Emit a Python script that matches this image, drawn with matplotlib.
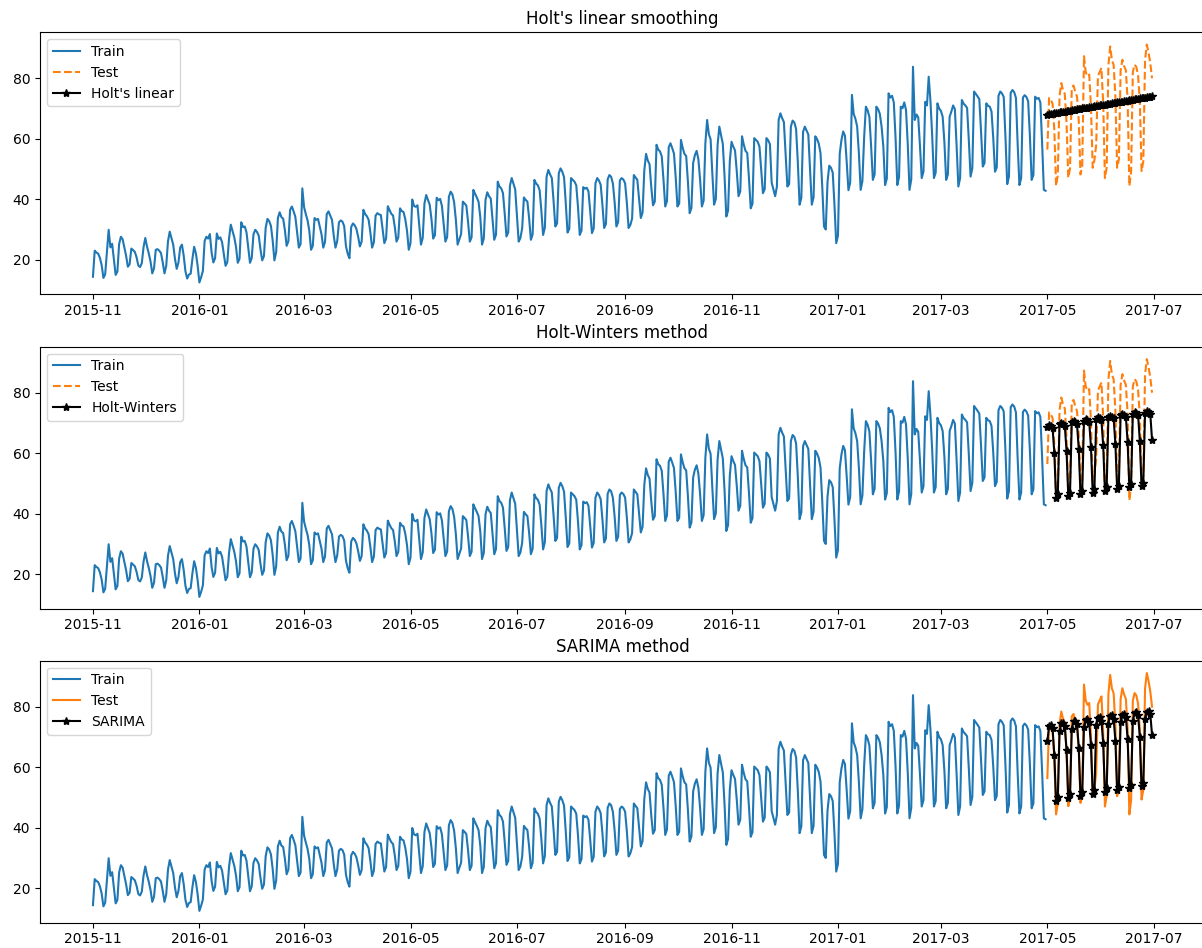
import matplotlib
matplotlib.use("Agg")
import matplotlib.pyplot as plt
import matplotlib.dates as mdates
import pandas as pd
import numpy as np

# ---------------- data ----------------
train_start = "2015-11-01"

# daily training values, one row per week (Sun..Sat)
train_values = [
    14.4, 23.0, 22.4, 22.0, 20.6, 18.2, 14.0,
    15.2, 22.5, 29.9, 24.1, 25.3, 20.2, 15.0,
    16.1, 25.2, 27.6, 26.8, 24.0, 21.3, 17.7,
    18.5, 23.7, 23.2, 22.6, 20.8, 18.1, 17.6,
    18.9, 24.2, 27.2, 24.3, 22.1, 19.4, 15.5,
    17.2, 23.3, 23.5, 23.0, 22.2, 19.1, 15.5,
    18.0, 26.1, 29.3, 27.2, 25.0, 20.3, 17.0,
    19.1, 24.0, 25.0, 21.4, 16.2, 13.8, 15.1,
    15.4, 20.3, 24.3, 22.1, 18.0, 12.5, 14.2,
    16.3, 26.2, 27.6, 27.0, 28.5, 22.4, 19.1,
    20.5, 28.7, 26.9, 27.4, 25.8, 22.0, 18.0,
    19.2, 27.1, 31.6, 29.5, 27.4, 24.2, 19.0,
    20.3, 32.4, 30.8, 31.0, 29.1, 24.0, 19.0,
    20.6, 28.4, 29.9, 29.2, 28.0, 23.5, 19.8,
    21.2, 30.6, 33.5, 32.8, 31.2, 26.4, 19.8,
    22.5, 33.8, 35.7, 34.1, 33.6, 29.8, 24.6,
    26.1, 36.5, 37.6, 36.0, 34.2, 29.1, 24.0,
    25.2, 43.6, 37.4, 35.1, 33.0, 29.6, 23.3,
    24.6, 33.8, 33.2, 33.5, 31.0, 28.4, 24.0,
    25.9, 35.1, 36.0, 34.6, 33.2, 28.0, 24.0,
    26.2, 32.4, 33.0, 32.6, 31.1, 24.5, 22.0,
    20.5, 30.8, 32.0, 31.4, 30.2, 27.6, 24.4,
    26.0, 36.5, 35.1, 34.4, 33.2, 29.0, 24.0,
    25.8, 34.6, 35.4, 35.0, 34.8, 30.1, 25.5,
    27.0, 37.7, 36.4, 35.2, 34.6, 30.8, 26.0,
    27.4, 37.0, 36.1, 35.8, 33.4, 29.6, 23.3,
    25.5, 39.9, 37.8, 37.5, 38.0, 31.4, 25.0,
    27.2, 38.6, 41.4, 39.8, 38.2, 33.5, 27.0,
    28.1, 40.5, 39.7, 40.1, 37.8, 32.0, 26.0,
    27.5, 40.8, 42.5, 41.6, 39.0, 33.2, 25.0,
    26.8, 28.5, 39.2, 38.6, 37.9, 32.4, 26.0,
    27.4, 43.1, 41.8, 40.6, 39.2, 34.1, 25.0,
    27.0, 39.8, 42.3, 41.0, 40.2, 33.5, 26.6,
    28.3, 45.8, 44.2, 43.6, 42.0, 35.2, 27.7,
    29.0, 44.5, 47.0, 45.1, 43.3, 34.8, 26.0,
    27.2, 30.4, 40.6, 39.8, 39.2, 33.6, 26.6,
    28.4, 46.4, 45.2, 44.6, 43.0, 36.2, 28.2,
    30.6, 47.5, 49.7, 48.2, 47.0, 39.4, 31.0,
    32.0, 48.6, 50.2, 49.1, 47.3, 38.6, 29.0,
    30.2, 47.0, 46.4, 45.8, 44.6, 37.4, 28.2,
    29.6, 44.0, 43.5, 43.8, 42.6, 36.0, 28.8,
    30.4, 45.3, 47.0, 46.2, 44.8, 38.1, 30.5,
    31.8, 46.6, 48.0, 47.4, 45.2, 39.0, 31.0,
    32.4, 46.2, 47.0, 46.5, 45.3, 38.8, 30.5,
    31.5, 33.6, 48.0, 47.2, 46.4, 40.2, 33.8,
    35.6, 49.5, 55.0, 52.8, 51.6, 44.0, 38.0,
    39.2, 58.0, 56.4, 55.8, 54.2, 46.5, 37.6,
    39.4, 57.2, 58.5, 56.9, 55.1, 47.2, 37.6,
    38.6, 59.6, 57.0, 55.0, 54.3, 45.8, 35.4,
    37.1, 52.0, 54.6, 56.0, 53.2, 46.3, 37.6,
    39.5, 58.5, 66.2, 61.5, 59.8, 48.4, 38.2,
    40.1, 57.9, 64.0, 61.2, 58.3, 47.6, 34.3,
    36.2, 52.5, 59.0, 57.4, 56.1, 49.2, 41.0,
    42.6, 60.8, 58.1, 56.0, 55.3, 46.8, 37.0,
    38.5, 60.2, 59.6, 59.0, 57.4, 49.5, 42.0,
    43.3, 60.2, 59.5, 58.2, 45.5, 43.2, 41.0,
    44.2, 66.2, 68.4, 66.8, 65.5, 55.0, 44.2,
    45.0, 64.0, 66.0, 65.4, 63.2, 52.1, 38.2,
    40.4, 62.3, 64.0, 62.7, 61.4, 50.0, 38.2,
    40.6, 60.8, 59.9, 58.4, 55.2, 44.0, 31.0,
    30.0, 45.6, 51.1, 50.4, 48.8, 38.0, 25.5,
    28.0, 55.0, 59.6, 62.4, 61.0, 52.3, 43.0,
    45.5, 74.5, 68.2, 66.6, 64.0, 55.1, 43.1,
    46.0, 60.5, 70.6, 69.4, 67.2, 57.5, 46.4,
    48.2, 70.6, 69.8, 68.2, 64.0, 57.4, 44.7,
    46.8, 75.0, 73.6, 74.2, 72.0, 60.3, 44.7,
    47.3, 70.6, 70.1, 72.0, 69.5, 58.2, 43.1,
    46.5, 83.8, 66.2, 68.0, 67.1, 57.6, 47.0,
    49.1, 72.2, 71.0, 80.5, 72.5, 61.0, 47.0,
    48.8, 71.7, 70.0, 69.2, 67.3, 58.8, 46.4,
    48.2, 67.3, 69.0, 71.0, 69.8, 57.6, 44.2,
    47.0, 72.8, 71.6, 71.0, 70.2, 59.5, 47.5,
    50.2, 75.6, 74.8, 74.0, 73.1, 62.4, 50.8,
    52.0, 71.7, 70.9, 70.6, 69.0, 60.2, 49.1,
    50.5, 74.2, 75.6, 75.0, 73.8, 60.5, 45.0,
    47.5, 75.2, 76.1, 75.4, 73.5, 58.0, 44.7,
    47.0, 73.6, 74.4, 73.8, 72.4, 61.0, 46.4,
    48.0, 73.9, 73.2, 73.5, 72.0, 58.6, 43.1,
    42.8,
]

# test period (Mon 2017-05-01 .. Fri 2017-06-30), rows Mon..Sun
test_values = [
    56.4, 73.5, 72.8, 71.6, 63.0, 44.4, 48.0,
    74.2, 78.4, 76.0, 74.8, 65.3, 47.1, 50.2,
    76.8, 77.6, 75.5, 73.9, 66.0, 48.2, 51.0,
    87.3, 82.0, 80.6, 81.2, 70.5, 50.4, 53.0,
    58.0, 80.8, 82.0, 83.4, 72.0, 47.0, 50.5,
    84.2, 90.5, 86.0, 84.4, 74.0, 50.4, 53.2,
    82.5, 86.1, 84.0, 82.6, 73.0, 44.4, 49.0,
    82.0, 84.5, 83.7, 81.0, 72.4, 49.3, 52.5,
    86.0, 91.1, 88.5, 85.0, 80.0,
]

holt_values = [
    68.0, 68.1, 68.2, 68.3, 68.4, 68.5, 68.6, 68.7, 68.8, 68.9,
    69.0, 69.1, 69.2, 69.3, 69.4, 69.5, 69.6, 69.7, 69.8, 69.9,
    70.0, 70.1, 70.2, 70.3, 70.4, 70.5, 70.6, 70.7, 70.8, 70.9,
    71.0, 71.1, 71.2, 71.3, 71.4, 71.5, 71.6, 71.7, 71.8, 71.9,
    72.0, 72.1, 72.2, 72.3, 72.4, 72.5, 72.6, 72.7, 72.8, 72.9,
    73.0, 73.1, 73.2, 73.3, 73.4, 73.5, 73.6, 73.7, 73.8, 73.9,
    74.0,
]

hw_values = [
    68.8, 69.3, 69.0, 68.4, 60.1, 45.3, 46.4,
    69.6, 70.0, 69.7, 69.1, 60.8, 45.9, 47.0,
    70.2, 70.6, 70.3, 69.7, 61.4, 46.5, 47.5,
    70.8, 71.2, 70.9, 70.3, 62.0, 47.0, 48.1,
    71.3, 71.8, 71.5, 70.9, 62.6, 47.6, 48.7,
    71.9, 72.4, 72.1, 71.5, 63.1, 48.2, 49.3,
    72.5, 73.0, 72.7, 72.1, 63.7, 48.8, 49.8,
    73.1, 73.6, 73.3, 72.7, 64.0, 49.2, 50.2,
    73.4, 73.8, 73.5, 73.0, 64.5,
]

sarima_values = [
    68.5, 73.6, 73.9, 72.8, 64.1, 48.7, 50.2,
    72.0, 74.5, 74.6, 73.5, 65.6, 49.8, 51.0,
    72.6, 75.1, 75.3, 74.2, 66.5, 50.5, 51.7,
    73.2, 75.7, 75.9, 74.8, 67.3, 51.2, 52.4,
    73.8, 76.3, 76.5, 75.4, 68.0, 51.9, 53.0,
    74.4, 76.9, 77.1, 76.0, 68.8, 52.5, 53.6,
    74.9, 77.4, 77.6, 76.6, 69.4, 53.1, 54.2,
    75.4, 77.9, 78.1, 77.1, 70.0, 53.7, 54.7,
    75.9, 78.4, 78.5, 77.6, 70.7,
]

titles = ["Holt's linear smoothing", "Holt-Winters method", "SARIMA method"]
forecast_labels = ["Holt's linear", "Holt-Winters", "SARIMA"]
test_styles = ["--", "--", "-"]

# ---------------- figure ----------------
train_idx = pd.date_range(train_start, periods=len(train_values), freq="D")
test_idx = pd.date_range(train_idx[-1] + pd.Timedelta(days=1),
                         periods=len(test_values), freq="D")

fig = plt.figure(figsize=(12.02, 9.48), dpi=100)
bottoms = [0.6896, 0.3579, 0.02669]
forecasts = [holt_values, hw_values, sarima_values]

x_left = mdates.date2num(train_idx[0]) - 30.35
x_right = mdates.date2num(test_idx[-1]) + 30.35

for b, title, flab, fvals, tstyle in zip(bottoms, titles, forecast_labels,
                                          forecasts, test_styles):
    ax = fig.add_axes([0.03328, b, 0.9692, 0.2764])
    ax.plot(train_idx, train_values, color="#1f77b4", label="Train")
    ax.plot(test_idx, test_values, color="#ff7f0e", linestyle=tstyle, label="Test")
    ax.plot(test_idx[:len(fvals)], fvals, color="black", marker="*", label=flab)
    ax.set_title(title)
    ax.legend(loc="upper left")
    ax.set_xlim(x_left, x_right)
    ax.set_ylim(8.6, 95.2)
    ax.set_yticks([20, 40, 60, 80])
    ax.xaxis.set_major_locator(mdates.MonthLocator(bymonth=[1, 3, 5, 7, 9, 11]))
    ax.xaxis.set_major_formatter(mdates.DateFormatter("%Y-%m"))

fig.savefig("out.png", dpi=100)
